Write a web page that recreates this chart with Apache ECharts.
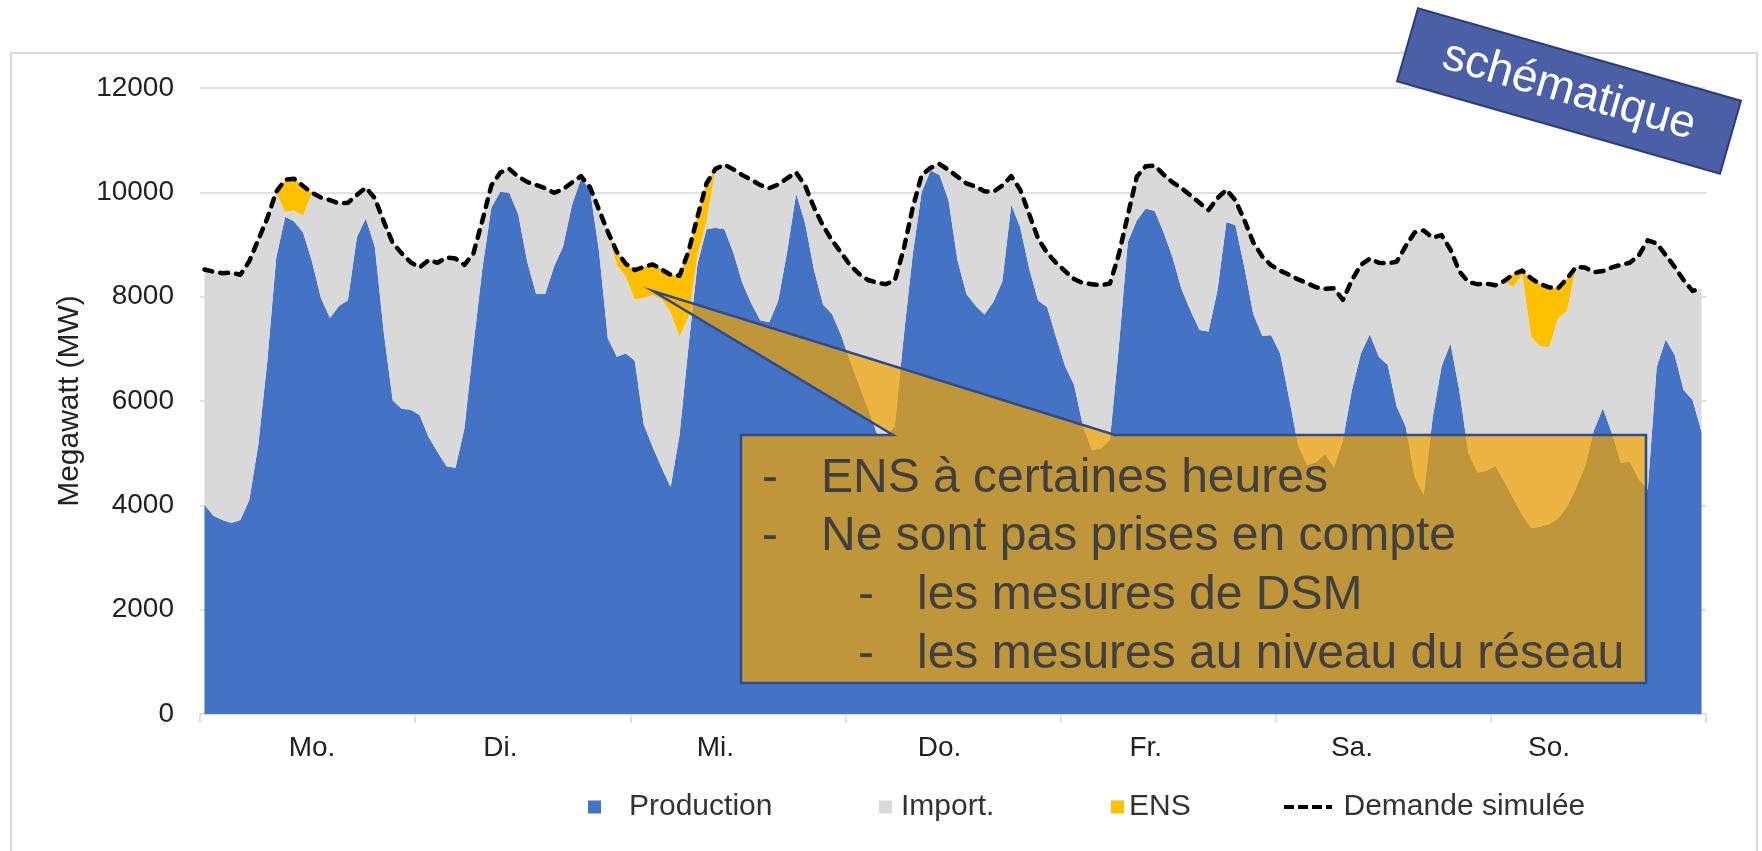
<!DOCTYPE html>
<html>
<head>
<meta charset="utf-8">
<script src="https://cdn.jsdelivr.net/npm/echarts/dist/echarts.min.js"></script>
<style>html,body{margin:0;padding:0;background:#fff;}#chart{width:1762px;height:851px;}</style>
</head>
<body>
<div id="chart"></div>
<script>
// ---- data (hourly, one week) ----
const days = ['Mo.', 'Di.', 'Mi.', 'Do.', 'Fr.', 'Sa.', 'So.'];
const dayLabelHours = [12, 33, 57, 82, 105, 128, 150];
const yMin = 0, yMax = 12000, yStep = 2000;

const production = [
 4010,3800,3720,3660,3720,4100,5160,6750,8740,9530,9440,9230,8670,7970,7590,7820,7930,9140,9500,8960,7320,6010,5850,5830,
 5730,5310,5020,4750,4720,5480,7070,8540,9710,10010,9990,9580,8670,8050,8050,8580,8960,9760,10260,10060,8890,7200,6850,6910,
 6770,5550,5120,4720,4350,5360,7060,8630,9290,9320,9290,8840,8260,7870,7550,7510,7920,8860,9980,9410,8510,7850,7670,7270,
 6770,6310,5860,5380,5320,5510,7230,8800,10000,10420,10330,9850,8700,8050,7830,7660,7900,8290,9760,9330,8540,7920,7800,7220,
 6670,6310,5520,5060,5090,5250,7040,9050,9460,9690,9640,9230,8750,8140,7730,7360,7330,8120,9430,9370,8570,7670,7250,7260,
 6910,6050,5150,4770,4830,4980,4730,5250,6210,6910,7280,6850,6690,5890,5510,4550,4200,5670,6660,7100,6180,5000,4630,4660,
 4760,4450,4130,3810,3560,3590,3640,3750,3970,4330,4740,5440,5860,5380,4810,4840,4500,4300,6650,7180,6880,6210,6020,5410
];
const importVals = [
 4510,4680,4730,4800,4700,4580,3930,2750,1270,100,210,320,1320,1930,2260,1970,1870,810,590,930,2120,3020,2980,2830,
 2830,3390,3630,4000,4010,3130,1760,920,420,370,460,720,1530,2090,2030,1410,1100,430,50,40,780,2040,1760,1470,
 1170,2430,2910,3230,3350,1870,560,160,150,1130,1240,1600,2070,2370,2590,2570,2230,1410,400,720,1200,1510,1410,1580,
 1840,2130,2460,2890,2920,2800,1680,900,330,50,210,580,1600,2120,2280,2360,2110,1840,550,720,1040,1190,1040,1430,
 1820,2030,2740,3180,3130,3000,1770,510,840,810,870,1110,1440,1940,2210,2440,2330,1770,620,480,900,1370,1520,1340,
 1590,2370,3180,3490,3350,3170,3430,2690,2110,1700,1450,1800,1950,2780,3460,4680,5070,3460,2520,1800,2300,3280,3610,3590,
 3460,3850,4050,4620,3660,3460,3390,3830,3760,4240,3820,3030,2630,3180,3800,3810,4290,4780,2370,1620,1690,2110,2090,2750
];
const ens = [
 0,0,0,0,0,0,0,0,0,610,610,570,0,0,0,0,0,0,0,0,0,0,0,0,
 0,0,0,0,0,0,0,0,0,0,0,0,0,0,0,0,0,0,0,0,0,0,250,250,
 570,590,590,570,720,1170,1250,740,730,0,0,0,0,0,0,0,0,0,0,0,0,0,0,0,
 0,0,0,0,0,0,0,0,0,0,0,0,0,0,0,0,0,0,0,0,0,0,0,0,
 0,0,0,0,0,0,0,0,0,0,0,0,0,0,0,0,0,0,0,0,0,0,0,0,
 0,0,0,0,0,0,0,0,0,0,0,0,0,0,0,0,0,0,0,0,0,0,0,0,
 0,0,250,70,1130,1190,1150,580,620,0,0,0,0,0,0,0,0,0,0,0,0,0,0,0
];
const demand = [
 8520,8480,8450,8460,8420,8680,9090,9500,10010,10240,10260,10120,9990,9900,9850,9790,9800,9950,10090,9890,9440,9030,8830,8660,
 8560,8700,8650,8750,8730,8610,8830,9460,10130,10380,10450,10300,10200,10140,10080,9990,10060,10190,10310,10100,9670,9240,8860,8630,
 8510,8570,8620,8520,8420,8400,8870,9530,10170,10450,10530,10440,10330,10240,10140,10080,10150,10270,10380,10130,9710,9360,9080,8850,
 8610,8440,8320,8270,8240,8310,8910,9700,10330,10470,10540,10430,10300,10170,10110,10020,10010,10130,10310,10050,9580,9110,8840,8650,
 8490,8340,8260,8240,8220,8250,8810,9560,10300,10500,10510,10340,10190,10080,9940,9800,9660,9890,10050,9850,9470,9040,8770,8600,
 8500,8420,8330,8260,8180,8150,8160,7940,8320,8610,8730,8650,8640,8670,8970,9230,9270,9130,9180,8900,8480,8280,8240,8250,
 8220,8300,8430,8500,8350,8240,8180,8160,8350,8570,8560,8470,8490,8560,8610,8650,8790,9080,9020,8800,8570,8320,8110,8160
];
const seriesNames = ['Production', 'Import.', 'ENS', 'Demande simulée'];
const annotationLines = [
  ['-', 'ENS à certaines heures', 0],
  ['-', 'Ne sont pas prises en compte', 0],
  ['-', 'les mesures de DSM', 1],
  ['-', 'les mesures au niveau du réseau', 1]
];
const badgeText = 'schématique';

// ---- chart ----
const hours = production.map((_, i) => String(i));
const FONT = '"Liberation Sans", Arial, sans-serif';
const C_PROD = '#4472C4', C_IMP = '#D9D9D9', C_ENS = '#FFC000';

const chart = echarts.init(document.getElementById('chart'), null, {renderer: 'canvas'});

function legendItem(name, left, pad, icon, w, h, color) {
  return {
    left: left, top: 787, orient: 'horizontal', selectedMode: false,
    itemWidth: w, itemHeight: h,
    data: [{name: name, icon: icon, itemStyle: {color: color}}],
    textStyle: {fontFamily: FONT, fontSize: 30, color: '#333', padding: [0, 0, 0, pad]}
  };
}

const graphics = [
  {type: 'rect', z: -10, silent: true,
   shape: {x: 11, y: 53, width: 1746, height: 830},
   style: {fill: 'none', stroke: '#D9D9D9', lineWidth: 2}},
  {type: 'polygon', z: 100, silent: true,
   shape: {points: [[741, 435], [893, 435], [653, 291], [1115, 435], [1646, 435], [1646, 683], [741, 683]]},
   style: {fill: 'rgba(244,165,0,0.7)', stroke: '#2F4B8C', lineWidth: 2.5, lineJoin: 'miter'}}
];
const lineMid = [479, 537, 596, 655];
annotationLines.forEach((ln, i) => {
  const indent = ln[2] ? 96 : 0;
  graphics.push({type: 'text', z: 101, silent: true,
    style: {text: ln[0], x: 762 + indent, y: lineMid[i], font: '48px ' + FONT, fill: '#404040', align: 'left', verticalAlign: 'middle'}});
  graphics.push({type: 'text', z: 101, silent: true,
    style: {text: ln[1], x: 821 + indent, y: lineMid[i], font: '48px ' + FONT, fill: '#404040', align: 'left', verticalAlign: 'middle'}});
});
graphics.push({
  type: 'group', z: 110, x: 1569, y: 91, rotation: -16 * Math.PI / 180, silent: true,
  children: [
    {type: 'rect', z: 110, shape: {x: -168, y: -38, width: 336, height: 76},
     style: {fill: '#4A5FA5', stroke: '#2E3D78', lineWidth: 2}},
    {type: 'text', z: 111, style: {text: badgeText, x: 0, y: 0, font: '46px ' + FONT, fill: '#ffffff', align: 'center', verticalAlign: 'middle'}}
  ]
});

const option = {
  animation: false,
  backgroundColor: '#ffffff',
  textStyle: {fontFamily: FONT},
  grid: {left: 200, right: 56, top: 88, bottom: 137, containLabel: false, outerBoundsMode: 'none'},
  legend: [
    legendItem('Production', 583, 23, 'rect', 13, 13, C_PROD),
    legendItem('Import.', 874, 4, 'rect', 13, 13, C_IMP),
    legendItem('ENS', 1106, 0, 'rect', 13, 13, C_ENS),
    legendItem('Demande simulée', 1279, 4, 'path://M0,0H10V4H0Z M14,0H24V4H14Z M28,0H38V4H28Z M42,0H48V4H42Z', 53, 4, '#000')
  ],
  xAxis: {
    type: 'category', data: hours, boundaryGap: true,
    axisLine: {show: true, lineStyle: {color: '#D9D9D9', width: 1.5}},
    axisTick: {show: true, interval: 23, length: 9, lineStyle: {color: '#D9D9D9', width: 1.5}},
    axisLabel: {
      interval: (idx) => dayLabelHours.indexOf(idx) >= 0,
      formatter: (val, idx) => {
        const k = dayLabelHours.indexOf(Number(val));
        return k >= 0 ? days[k] : '';
      },
      margin: 20, fontSize: 28, color: '#222', fontFamily: FONT
    },
    splitLine: {show: false}
  },
  yAxis: {
    type: 'value', min: yMin, max: yMax, interval: yStep,
    name: 'Megawatt (MW)', nameLocation: 'middle', nameGap: 115, nameRotate: 90,
    nameTextStyle: {fontSize: 30, color: '#222', fontFamily: FONT},
    axisLine: {show: false}, axisTick: {show: false},
    axisLabel: {margin: 26, fontSize: 28, color: '#222', fontFamily: FONT, formatter: (v) => String(v)},
    splitLine: {show: true, lineStyle: {color: '#D9D9D9', width: 1.5}}
  },
  series: [
    {name: seriesNames[0], type: 'line', stack: 'total', data: production, symbol: 'none', showSymbol: false,
     lineStyle: {width: 0}, itemStyle: {color: C_PROD}, areaStyle: {color: C_PROD, opacity: 1}, z: 2},
    {name: seriesNames[1], type: 'line', stack: 'total', data: importVals, symbol: 'none', showSymbol: false,
     lineStyle: {width: 0}, itemStyle: {color: C_IMP}, areaStyle: {color: C_IMP, opacity: 1}, z: 2},
    {name: seriesNames[2], type: 'line', stack: 'total', data: ens, symbol: 'none', showSymbol: false,
     lineStyle: {width: 0}, itemStyle: {color: C_ENS}, areaStyle: {color: C_ENS, opacity: 1}, z: 2},
    {name: seriesNames[3], type: 'line', data: demand, symbol: 'none', showSymbol: false,
     itemStyle: {color: '#000'},
     lineStyle: {color: '#000', width: 4.5, type: [8, 8], cap: 'round', join: 'round'}, z: 5}
  ],
  graphic: graphics
};
chart.setOption(option);
</script>
</body>
</html>
